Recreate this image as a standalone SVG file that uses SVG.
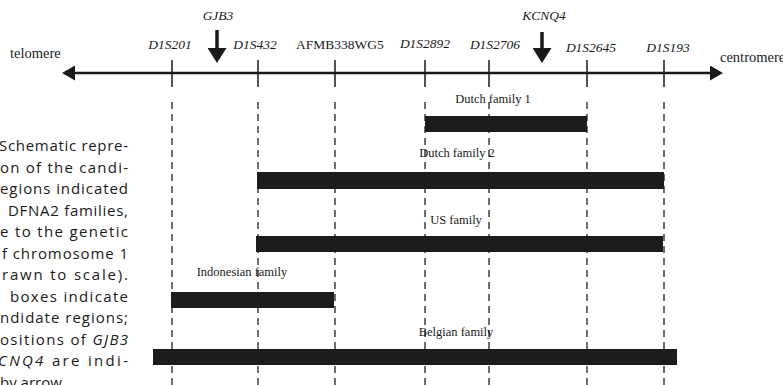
<svg xmlns="http://www.w3.org/2000/svg" width="783" height="385" viewBox="0 0 783 385">
<defs>
<style>
.lbl{font-family:"Liberation Serif","Times New Roman",serif;font-size:13.5px;fill:#1a1a1a;text-anchor:middle}
.it{font-style:italic}
.end{font-family:"Liberation Serif","Times New Roman",serif;font-size:14.5px;fill:#1a1a1a}
.fam{font-family:"Liberation Serif","Times New Roman",serif;font-size:12.5px;fill:#1a1a1a;text-anchor:middle}
.tick{stroke:#1a1a1a;stroke-width:1.5}
.dash{stroke:#222;stroke-width:1.3;stroke-dasharray:7 5}
.bar{fill:#1c1c1c}
.axis{stroke:#1a1a1a;stroke-width:2.5;fill:none}
.gene{stroke:#1a1a1a;stroke-width:3.5}
.cap{font-family:"Open Sans","Noto Sans",sans-serif;font-size:15px;fill:#1a1a1a}
</style>
<marker id="ah" markerUnits="userSpaceOnUse" markerWidth="14" markerHeight="15" refX="2" refY="7.5" orient="auto-start-reverse">
<path d="M0,0 L13,7.5 L0,15 z" fill="#1a1a1a"/>
</marker>
<marker id="gh" markerUnits="userSpaceOnUse" markerWidth="16" markerHeight="19" refX="0" refY="9.5" orient="auto">
<path d="M0,0 L15,9.5 L0,19 z" fill="#1a1a1a"/>
</marker>
</defs>

<g id="connectors">
<line class="axis" x1="73" y1="73" x2="712" y2="73" marker-start="url(#ah)" marker-end="url(#ah)"/>
<line class="dash" x1="172" y1="102" x2="172" y2="385"/>
<line class="dash" x1="258" y1="102" x2="258" y2="385"/>
<line class="dash" x1="335" y1="102" x2="335" y2="385"/>
<line class="dash" x1="425" y1="102" x2="425" y2="385"/>
<line class="dash" x1="489" y1="102" x2="489" y2="385"/>
<line class="dash" x1="587" y1="102" x2="587" y2="385"/>
<line class="dash" x1="664" y1="102" x2="664" y2="385"/>
</g>

<g id="telomere"><text class="end" x="10" y="58">telomere</text></g>
<g id="centromere"><text class="end" x="720" y="62">centromere</text></g>

<g id="m-D1S201"><line class="tick" x1="172" y1="60" x2="172" y2="87"/><text class="lbl it" x="170" y="49">D1S201</text></g>
<g id="m-D1S432"><line class="tick" x1="258" y1="60" x2="258" y2="87"/><text class="lbl it" x="255" y="49">D1S432</text></g>
<g id="m-AFMB338WG5"><line class="tick" x1="335" y1="60" x2="335" y2="87"/><text class="lbl" x="340" y="49">AFMB338WG5</text></g>
<g id="m-D1S2892"><line class="tick" x1="425" y1="60" x2="425" y2="87"/><text class="lbl it" x="425" y="48">D1S2892</text></g>
<g id="m-D1S2706"><line class="tick" x1="489" y1="60" x2="489" y2="87"/><text class="lbl it" x="495" y="49">D1S2706</text></g>
<g id="m-D1S2645"><line class="tick" x1="587" y1="60" x2="587" y2="87"/><text class="lbl it" x="591" y="52">D1S2645</text></g>
<g id="m-D1S193"><line class="tick" x1="664" y1="60" x2="664" y2="87"/><text class="lbl it" x="668" y="52">D1S193</text></g>

<g id="gene-GJB3"><text class="lbl it" x="218" y="20">GJB3</text><line class="gene" x1="217" y1="30" x2="217" y2="48" marker-end="url(#gh)"/></g>
<g id="gene-KCNQ4"><text class="lbl it" x="544" y="20">KCNQ4</text><line class="gene" x1="542" y1="32" x2="542" y2="48" marker-end="url(#gh)"/></g>

<g id="dutch1"><text class="fam" x="493" y="103">Dutch family 1</text><rect class="bar" x="425" y="116" width="162" height="16"/></g>
<g id="dutch2"><text class="fam" x="457" y="157">Dutch family 2</text><rect class="bar" x="257" y="172" width="407" height="17"/></g>
<g id="us"><text class="fam" x="456" y="224">US family</text><rect class="bar" x="256" y="236" width="407" height="16"/></g>
<g id="indonesian"><text class="fam" x="242" y="276">Indonesian family</text><rect class="bar" x="171" y="292" width="163" height="16"/></g>
<g id="belgian"><text class="fam" x="456" y="336">Belgian family</text><rect class="bar" x="153" y="349" width="524" height="16"/></g>

<g id="caption">
<text class="cap" x="-1" y="151" textLength="129" lengthAdjust="spacing">Schematic repre-</text>
<text class="cap" x="0" y="172.5" textLength="128" lengthAdjust="spacing">on of the candi-</text>
<text class="cap" x="0" y="194" textLength="128" lengthAdjust="spacing">egions indicated</text>
<text class="cap" x="8" y="215.5" textLength="120" lengthAdjust="spacing">DFNA2 families,</text>
<text class="cap" x="0" y="237" textLength="128" lengthAdjust="spacing">e to the genetic</text>
<text class="cap" x="2" y="258.5" textLength="126" lengthAdjust="spacing">f chromosome 1</text>
<text class="cap" x="2" y="280" textLength="126" lengthAdjust="spacing">rawn to scale).</text>
<text class="cap" x="10" y="301.5" textLength="118" lengthAdjust="spacing">boxes indicate</text>
<text class="cap" x="0" y="323" textLength="128" lengthAdjust="spacing">ndidate regions;</text>
<text class="cap" x="0" y="344.5" textLength="128" lengthAdjust="spacing">ositions of <tspan font-style="italic">GJB3</tspan></text>
<text class="cap" x="-2" y="366" textLength="130" lengthAdjust="spacing"><tspan font-style="italic">CNQ4</tspan> are indi-</text>
<text class="cap" x="0" y="387.5">by arrow.</text>
</g>
</svg>
